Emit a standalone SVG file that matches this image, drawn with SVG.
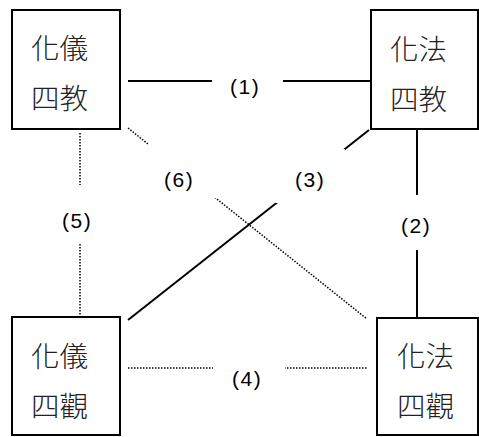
<svg xmlns="http://www.w3.org/2000/svg" width="479" height="437" viewBox="0 0 479 437">
<style>
.box{fill:#fff;stroke:#000;stroke-width:2}
.t{font-family:"Noto Sans CJK TC","Noto Sans CJK SC",sans-serif;font-size:28.5px;font-weight:300;fill:#222}
.lbl{font-family:"Liberation Sans",Arial,sans-serif;font-size:21px;fill:#000;letter-spacing:1.5px}
.solid{stroke:#000;stroke-width:2;fill:none}
.dot{stroke:#000;stroke-width:1.5;stroke-dasharray:1.5 1.5;fill:none}
.bg{fill:#fff}
</style>
<rect width="479" height="437" fill="#fff"/>
<g id="connectors">
<line class="solid" x1="128" y1="81" x2="370" y2="81"/>
<line class="solid" x1="417" y1="130" x2="417" y2="317"/>
<line class="solid" x1="369" y1="130" x2="128" y2="320"/>
<line class="dot" x1="128" y1="368" x2="367" y2="368"/>
<line class="dot" x1="80" y1="133" x2="80" y2="317"/>
<line class="dot" x1="128" y1="128" x2="367" y2="319"/>
<rect class="bg" x="212" y="66" width="71" height="36"/>
<rect class="bg" x="392" y="195" width="58" height="55"/>
<rect class="bg" x="275" y="149" width="70" height="54"/>
<rect class="bg" x="148" y="144" width="69" height="54"/>
<rect class="bg" x="45" y="185" width="60" height="58"/>
<rect class="bg" x="213" y="345" width="72" height="50"/>
<text class="lbl" x="230" y="94">(1)</text>
<text class="lbl" x="401" y="233">(2)</text>
<text class="lbl" x="295" y="187">(3)</text>
<text class="lbl" x="232" y="386">(4)</text>
<text class="lbl" x="62" y="228">(5)</text>
<text class="lbl" x="164" y="187">(6)</text>
</g>
<g id="n1">
<rect class="box" x="12" y="10" width="108" height="119"/>
<text class="t" x="31" y="59">化儀</text>
<text class="t" x="31" y="109">四教</text>
</g>
<g id="n2">
<rect class="box" x="371" y="10" width="107" height="119"/>
<text class="t" x="390" y="60">化法</text>
<text class="t" x="390" y="110">四教</text>
</g>
<g id="n3">
<rect class="box" x="12" y="317" width="108" height="118"/>
<text class="t" x="31" y="367">化儀</text>
<text class="t" x="31" y="417">四觀</text>
</g>
<g id="n4">
<rect class="box" x="377" y="318" width="101" height="117"/>
<text class="t" x="397" y="367">化法</text>
<text class="t" x="397" y="417">四觀</text>
</g>
</svg>
